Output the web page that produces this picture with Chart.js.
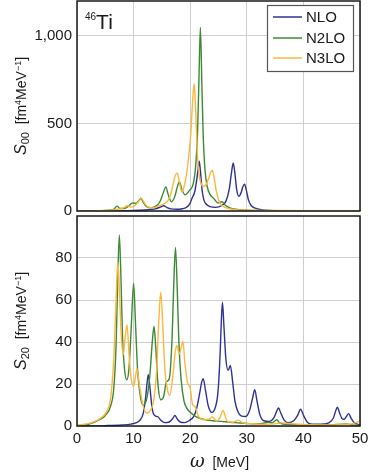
<!DOCTYPE html>
<html>
<head>
<meta charset="utf-8">
<script src="https://cdn.jsdelivr.net/npm/chart.js@4.4.1/dist/chart.umd.min.js"></script>
<style>
  body { margin: 0; background: #fff; }
  #wrap { position: relative; width: 374px; height: 475px; }
  canvas { position: absolute; left: 0; }
</style>
</head>
<body>
<div id="wrap">
  <canvas id="topChart" width="374" height="222" style="top:0"></canvas>
  <canvas id="bottomChart" width="374" height="262" style="top:213px"></canvas>
</div>
<script>
// series names / colours and tick values
const seriesNames = ['NLO', 'N2LO', 'N3LO'];
const seriesColors = ['#2d3393', '#3c8a33', '#fdb73e'];
const xTicks = [0, 10, 20, 30, 40, 50];
const s00Ticks = [0, 500, 1000];
const s20Ticks = [0, 20, 40, 60, 80];

// S00: [omega MeV, value]
const nloS00 = [[0,0],[6,0.5],[9,1.5],[11,4],[12.5,7],[13.8,12],[14.7,22],[15.3,30],[15.9,20],[16.6,12],[17.6,10],[18.6,13],
  [19.3,20],[20.0,45],[20.3,72],[20.8,110],[21.2,190],[21.45,255],[21.6,285],[21.8,230],[22.1,120],[22.4,65],[22.8,40],
  [23.5,25],[24.5,21],[25.5,30],[26.3,55],[26.9,125],[27.3,220],[27.6,275],[27.9,215],[28.2,125],[28.6,84],[29.0,105],
  [29.3,138],[29.6,153],[29.9,122],[30.3,62],[30.8,30],[31.5,16],[32.5,8],[34,3],[36,1.5],[40,0.5],[50,0]];
const n2loS00 = [[0,0],[4,1.5],[5.5,4],[6.5,10],[7.1,28],[7.6,14],[8.3,14],[9.2,30],[9.8,46],[10.4,44],[10.9,58],[11.3,73],
  [11.7,50],[12.3,25],[13.0,18],[13.8,25],[14.6,50],[15.2,100],[15.7,138],[16.1,95],[16.7,53],[17.3,85],[17.7,135],
  [18.1,167],[18.5,125],[19.1,92],[19.8,115],[20.6,165],[21.0,270],[21.3,450],[21.55,760],[21.8,1049],[22.05,740],
  [22.3,430],[22.6,240],[23.0,140],[23.5,95],[24.2,70],[24.9,46],[25.6,53],[26.2,33],[27,18],[28,10],[30,5],[33,2.5],
  [38,1],[50,0.5]];
const n3loS00 = [[0,0],[4,2],[6,5],[7.2,10],[8.2,18],[8.9,30],[9.5,22],[10.2,30],[10.8,50],[11.4,72],[11.9,46],[12.5,24],
  [13.4,18],[14.4,28],[15.4,42],[16.1,60],[16.7,110],[17.2,185],[17.7,218],[18.1,165],[18.5,110],[19.0,150],[19.6,270],
  [20.1,440],[20.45,640],[20.7,727],[20.95,590],[21.2,370],[21.5,225],[21.9,160],[22.3,140],[22.8,150],[23.3,190],
  [23.6,220],[23.9,233],[24.2,195],[24.6,115],[25.1,55],[25.7,30],[26.5,16],[28,8],[30,5],[35,3],[40,2],[50,1]];

// S20: [omega MeV, value]
const nloS20 = [[0,0],[5,0.2],[8,0.5],[9.5,0.9],[10.5,1.6],[11.1,2.7],[11.7,6],[12.1,13],[12.4,21],[12.6,24.4],[12.9,18],
  [13.2,10],[13.5,5.8],[14.0,4.6],[14.3,4.4],[14.8,2.8],[15.5,1.6],[16.3,1.9],[16.9,3.5],[17.3,5.0],[17.7,3.4],[18.3,1.8],
  [19,1.6],[19.8,2.5],[20.6,4.5],[21.1,8],[21.7,16],[22.0,20.5],[22.3,22.5],[22.7,17],[23.2,9.5],[23.8,6.5],[24.4,8.5],
  [24.9,16],[25.25,32],[25.5,50],[25.7,59],[25.95,48],[26.3,32],[26.7,26.5],[27.1,28.8],[27.5,21],[27.9,12],[28.4,7],
  [29,4.8],[29.8,4.5],[30.5,7.5],[31.0,13],[31.4,17.3],[31.8,12],[32.3,5.5],[33,2.5],[34,2.2],[34.8,4],[35.3,7.2],
  [35.6,8.6],[36,6.2],[36.6,2.8],[37.3,1.6],[38.3,2.5],[39,5.2],[39.5,8],[40,5.2],[40.7,1.8],[41.5,0.9],[43,0.8],
  [44.5,1.5],[45.3,3.8],[45.7,7.2],[46.0,9],[46.4,6.2],[46.8,3.6],[47.2,3.2],[47.6,4.6],[48.0,5.9],[48.4,3.9],[49,1.5],
  [50,0.6]];
const n2loS20 = [[0,0.2],[2,0.8],[4,3],[5,5],[6,10],[6.5,18],[6.9,38],[7.2,70],[7.48,91],[7.75,72],[8.05,42],[8.4,27],
  [8.8,22],[9.2,28],[9.6,48],[10.0,68],[10.35,48],[10.7,27],[11.2,14],[11.7,10],[12.4,14],[12.9,25],[13.3,40],
  [13.6,47.5],[13.9,38],[14.3,20],[14.8,12.5],[15.3,14],[15.8,21],[16.3,22.5],[16.8,42],[17.1,68],[17.4,85],[17.7,66],
  [18.0,40],[18.4,22],[18.9,12],[19.4,8.5],[20.0,6.5],[21,4.5],[22.3,3.2],[24,2.5],[25.5,2.2],[27,1.8],[28.5,1.5],
  [30,1.2],[31.5,1.0],[33,1.3],[33.8,1.8],[34.5,1.5],[35.3,3],[35.8,1.5],[37,0.8],[40,0.5],[44,0.5],[47.7,1.0],
  [48.5,0.5],[50,0.4]];
const n3loS20 = [[0,0.3],[2.3,1.4],[4.1,3.5],[5.2,6.7],[5.8,11],[6.1,17],[6.5,32],[6.8,52],[7.05,71],[7.24,78],[7.5,64],
  [7.8,44],[8.17,34],[8.5,42],[8.83,48.2],[9.2,34],[9.6,22],[10.0,19],[10.3,23],[10.6,27.3],[11.0,20],[11.6,10.5],
  [12.3,6.2],[13.0,7.5],[13.6,13],[14.1,28],[14.45,50],[14.8,63.7],[15.15,48],[15.5,28],[16.0,17],[16.4,14.6],[16.9,23],
  [17.3,34],[17.6,38.4],[18.1,34.4],[18.7,40.4],[19.1,29],[19.5,21],[20.0,18],[20.4,10.5],[20.9,9],[21.4,5],[22.3,3],
  [23.3,3.2],[23.9,4.3],[24.7,2.4],[25.3,4.2],[25.8,7.4],[26.3,3.6],[26.7,2],[27.6,1.8],[28.5,2.8],[29.3,1.5],[31,1.1],
  [33,0.8],[35,1.0],[36.2,1.5],[37.5,1.2],[40,0.7],[45,0.5],[48,0.8],[49.3,1.6],[50,2.5]];

const SANS = '"Liberation Sans", Arial, sans-serif';

function drawRuns(ctx, runs, x, y) {
  let cx = x;
  runs.forEach(([text, font, dy]) => {
    ctx.font = font;
    ctx.fillText(text, cx, y + dy);
    cx += ctx.measureText(text).width;
  });
}
function runsWidth(ctx, runs) {
  let w = 0;
  runs.forEach(([text, font]) => { ctx.font = font; w += ctx.measureText(text).width; });
  return w;
}
function yTitleRuns(sub) {
  return [
    ['S', 'italic 16px ' + SANS, 0],
    [sub, '11px ' + SANS, 3],
    ['  [fm', '14px ' + SANS, 0],
    ['4', '9px ' + SANS, -5],
    ['MeV', '14px ' + SANS, 0],
    ['\u22121', '9px ' + SANS, -5],
    [']', '14px ' + SANS, 0]
  ];
}

// frame + y title (+ legend etc. per chart)
const decorations = {
  id: 'decorations',
  afterDatasetsDraw(chart, args, opts) {
    const { ctx, chartArea: a } = chart;
    ctx.save();
    ctx.strokeStyle = '#1a1a1a';
    ctx.lineWidth = 1.5;
    ctx.strokeRect(a.left, a.top, a.right - a.left, a.bottom - a.top);

    // rotated y title
    const runs = yTitleRuns(opts.sub);
    ctx.fillStyle = '#1a1a1a';
    ctx.textBaseline = 'alphabetic';
    ctx.translate(26, (a.top + a.bottom) / 2);
    ctx.rotate(-Math.PI / 2);
    drawRuns(ctx, runs, -runsWidth(ctx, runs) / 2, 0);
    ctx.setTransform(1, 0, 0, 1, 0, 0);

    if (opts.legend) {
      ctx.fillStyle = '#fff';
      ctx.fillRect(267.5, 5.5, 86, 66);
      ctx.strokeStyle = '#555';
      ctx.lineWidth = 1.2;
      ctx.strokeRect(267.5, 5.5, 86, 66);
      const rows = [17, 38, 58];
      chart.data.datasets.forEach((ds, i) => {
        ctx.strokeStyle = ds.borderColor;
        ctx.lineWidth = 1.5;
        ctx.beginPath();
        ctx.moveTo(273, rows[i]);
        ctx.lineTo(302, rows[i]);
        ctx.stroke();
        ctx.fillStyle = '#1a1a1a';
        ctx.font = '15px ' + SANS;
        ctx.textBaseline = 'middle';
        ctx.fillText(ds.label, 306, rows[i] + 1);
      });
      ctx.textBaseline = 'alphabetic';
      ctx.fillStyle = '#1a1a1a';
      drawRuns(ctx, [['46', '10px ' + SANS, -9], ['Ti', '21px ' + SANS, 0]], 85, 29);
    }
    if (opts.xTitle) {
      ctx.fillStyle = '#1a1a1a';
      ctx.textBaseline = 'alphabetic';
      drawRuns(ctx, [['\u03c9', 'italic 18px "DejaVu Serif", serif', 0], ['  [MeV]', '14px ' + SANS, 0]], 190, 254);
    }
    ctx.restore();
  }
};

function makeDatasets(list) {
  return list.map((pts, i) => ({
    label: seriesNames[i],
    data: pts.map(p => ({ x: p[0], y: p[1] })),
    borderColor: seriesColors[i],
    borderWidth: 1.4,
    pointRadius: 0,
    fill: false,
    cubicInterpolationMode: 'monotone',
    order: 3 - i
  }));
}

function makeChart(id, sets, yMax, yTicks, showX, pluginOpts, padTop, padBottom, xHeight) {
  return new Chart(document.getElementById(id), {
    type: 'line',
    data: { datasets: makeDatasets(sets) },
    options: {
      responsive: false,
      animation: false,
      devicePixelRatio: 1,
      events: [],
      layout: { autoPadding: false, padding: { left: 0, right: 14, top: padTop, bottom: padBottom } },
      plugins: { legend: { display: false }, tooltip: { enabled: false }, decorations: pluginOpts },
      scales: {
        x: {
          type: 'linear', min: 0, max: 50,
          afterBuildTicks: s => { s.ticks = xTicks.map(v => ({ value: v })); },
          afterFit: s => { s.height = xHeight; s.paddingLeft = 0; s.paddingRight = 0; },
          grid: { color: '#cfcfcf', lineWidth: 1, drawTicks: false },
          border: { display: false },
          ticks: { display: showX, padding: 4, color: '#1a1a1a', font: { family: SANS, size: 15 } }
        },
        y: {
          min: 0, max: yMax,
          afterBuildTicks: s => { s.ticks = yTicks.map(v => ({ value: v })); },
          afterFit: s => { s.width = 77; s.paddingTop = 0; s.paddingBottom = 0; },
          grid: { color: '#cfcfcf', lineWidth: 1, drawTicks: false },
          border: { display: false },
          ticks: { padding: 5, color: '#1a1a1a', font: { family: SANS, size: 15 } }
        }
      }
    },
    plugins: [decorations]
  });
}

makeChart('topChart', [nloS00, n2loS00, n3loS00], 1200, s00Ticks, false,
  { sub: '00', legend: true }, 1, 11, 0);
makeChart('bottomChart', [nloS20, n2loS20, n3loS20], 100, s20Ticks, true,
  { sub: '20', xTitle: true }, 3, 0, 49);
</script>
</body>
</html>
